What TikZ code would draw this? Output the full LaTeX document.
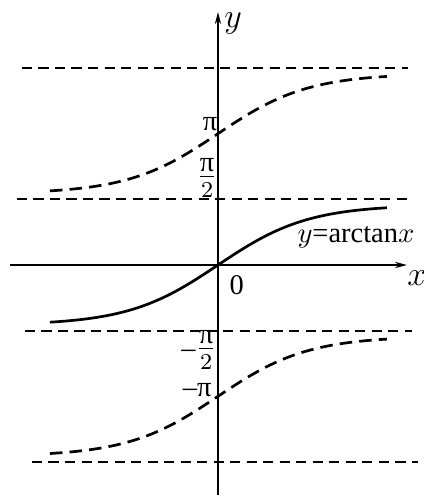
\documentclass[tikz,border=0pt]{standalone}
\usepackage{fontspec}
\setmainfont{Liberation Serif}
\usetikzlibrary{arrows.meta}

\begin{document}
\begin{tikzpicture}[x=0.516cm, y=0.516cm,
    asym/.style={dash pattern=on 3.6pt off 2.2pt, line width=0.65pt},
    branch/.style={line width=0.95pt, domain=-4.02:4.04, samples=90, smooth},
    axis/.style={line width=0.55pt, -{Stealth[length=4.2pt,width=2.2pt]}}]
    \useasboundingbox (-5.215,-5.550) rectangle (4.928,6.340);

    % Axes
    \draw[axis] (-4.98,0) -- (4.52,0);
    \draw[axis] (0,-5.50) -- (0,6.05);
    \node (xlab) at (4.76,-0.31) {\large$x$};
    \node (ylab) at (0.36,5.78) {\large$y$};
    \node (olab) at (0.45,-0.48) {0};

    % Asymptotes y = k*pi/2
    \draw[asym] (-4.69, 4.712) -- (4.55, 4.712);
    \draw[asym] (-4.81, 1.571) -- (4.55, 1.571);
    \draw[asym] (-4.62,-1.571) -- (4.64,-1.571);
    \draw[asym] (-4.45,-4.712) -- (4.78,-4.712);

    % Principal branch (solid) and shifted branches (dashed)
    \draw[branch] plot (\x, {1.435*tanh(\x/2.153)});
    \draw[branch, dash pattern=on 4.4pt off 2.5pt] plot (\x, {1.435*tanh(\x/2.153) + pi});
    \draw[branch, dash pattern=on 4.4pt off 2.5pt] plot (\x, {1.435*tanh(\x/2.153) - pi});

    % Tick labels on the y-axis
    \node (pilab)   at (-0.19, 3.37) {π};
    \node (halfpi)  at (-0.26, 2.08) {\large$\frac{\mbox{\normalsize π}}{2}$};
    \node (mhalfpi) at (-0.45,-2.03) {–\large$\frac{\mbox{\normalsize π}}{2}$};
    \node (mpilab)  at (-0.50,-2.99) {–π};

    % Curve label
    \node (curvelab) at (3.30, 0.67) {$y$=arctan$x$};
\end{tikzpicture}
\end{document}
